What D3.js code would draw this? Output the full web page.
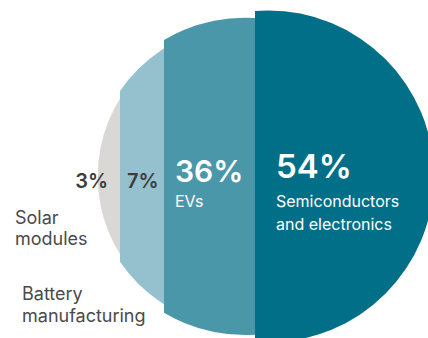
<!DOCTYPE html>
<html>
<head>
<meta charset="utf-8">
<script src="https://cdn.jsdelivr.net/npm/d3@7"></script>
<style>
  html, body { margin: 0; padding: 0; background: #ffffff; }
  svg { display: block; }
  text { font-family: Inter, "Noto Sans", sans-serif; }
</style>
</head>
<body>
<svg id="chart" width="428" height="338"></svg>
<script>
// ---- data ----
const categories = ["Solar modules", "Battery manufacturing", "EVs", "Semiconductors and electronics"];
const shares = [3, 7, 36, 54];
const shareLabels = ["3%", "7%", "36%", "54%"];
const nameLines = [["Solar", "modules"], ["Battery", "manufacturing"], ["EVs"], ["Semiconductors", "and electronics"]];

// ---- layout / style ----
const W = 428, H = 338;
const cy = 176.4;
const bandEdges = [97.7, 120, 164, 255, 440];          // x positions for cumulative share 0..100
const bandCenters = [245, 245, 245, 268];              // circle centre x of each band
const bandRadii = [147.3, 151.4, 158.6, 166];          // circle radius of each band
const colors = ["#dad8d5", "#94c1cd", "#4b97aa", "#026f89"];
const pctColors = ["#3d3d3d", "#3d3d3d", "#ffffff", "#ffffff"];
const pctSizes = [20, 20, 30, 33];

const cum = [0, ...d3.cumsum(shares)];
const x = d3.scaleLinear().domain(cum).range(bandEdges);

const svg = d3.select("#chart");
const defs = svg.append("defs");

const bands = shares.map((v, i) => ({
  i, value: v, name: categories[i],
  x0: x(cum[i]), x1: x(cum[i + 1]),
  cx: bandCenters[i], r: bandRadii[i]
}));

defs.selectAll("clipPath").data(bands).join("clipPath")
  .attr("id", d => "clip" + d.i)
  .append("rect")
  .attr("x", d => d.x0).attr("y", 0)
  .attr("width", d => d.x1 - d.x0).attr("height", H);

svg.selectAll("circle.band").data(bands).join("circle")
  .attr("class", "band")
  .attr("cx", d => d.cx).attr("cy", cy).attr("r", d => d.r)
  .attr("fill", (d, i) => colors[i])
  .attr("clip-path", d => `url(#clip${d.i})`);

// ---- percentage labels ----
const pctPos = [
  { anchor: "end", dx: -12, y: 188 },
  { anchor: "start", dx: 7, y: 188 },
  { anchor: "start", dx: 11, y: 182 },
  { anchor: "start", dx: 21, y: 178 }
];
svg.selectAll("text.pct").data(bands).join("text")
  .attr("class", "pct")
  .attr("x", d => (pctPos[d.i].anchor === "end" ? d.x1 : d.x0) + pctPos[d.i].dx)
  .attr("y", d => pctPos[d.i].y)
  .attr("text-anchor", d => pctPos[d.i].anchor)
  .attr("font-size", d => pctSizes[d.i])
  .attr("font-weight", 600)
  .attr("fill", d => pctColors[d.i])
  .text(d => shareLabels[d.i]);

// ---- category labels ----
const namePos = [
  { x: 15, y: 224, color: "#4a4a4a", size: 18, lh: 20.5 },
  { x: 22, y: 300, color: "#4a4a4a", size: 18, lh: 22 },
  { x: 175, y: 207, color: "#ffffff", size: 16, lh: 23 },
  { x: 276, y: 207, color: "#ffffff", size: 16, lh: 23 }
];
const nameG = svg.selectAll("text.name").data(bands).join("text")
  .attr("class", "name")
  .attr("x", d => namePos[d.i].x)
  .attr("y", d => namePos[d.i].y)
  .attr("font-size", d => namePos[d.i].size)
  .attr("fill", d => namePos[d.i].color);
nameG.selectAll("tspan").data(d => nameLines[d.i].map(t => ({ t, p: namePos[d.i] })))
  .join("tspan")
  .attr("x", d => d.p.x)
  .attr("dy", (d, j) => j === 0 ? 0 : d.p.lh)
  .text(d => d.t);
</script>
</body>
</html>
